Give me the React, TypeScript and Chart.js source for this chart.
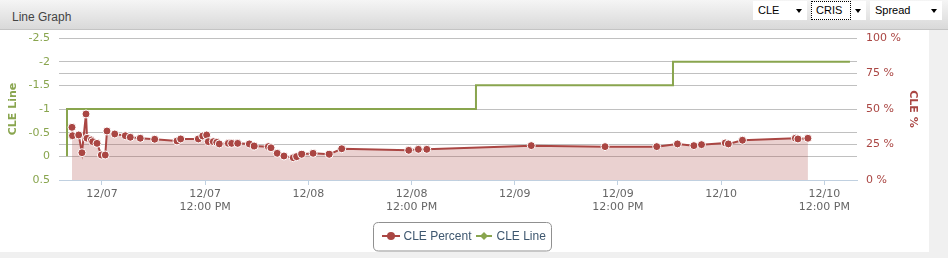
import React, { useEffect, useRef } from "react";
import { Chart, registerables } from "chart.js";

Chart.register(...registerables);

// ---- data ----
const dayLabels = ["12/07", "12/08", "12/09", "12/10"];
const xTickHours = [0, 12, 24, 36, 48, 60, 72, 84];
const leftTickValues = [-2.5, -2, -1.5, -1, -0.5, 0, 0.5];
const rightTickValues = [0, 25, 50, 75, 100];

// CLE Percent: hours since 12/07 00:00 and percent values
const percentHours = [
  -3.49, -3.43, -2.71, -2.33, -1.86, -1.74, -1.24, -1.08, -0.58, -0.08,
  0.38, 0.58, 1.48, 2.71, 3.29, 4.45, 6.13, 8.72, 9.15, 11.2,
  11.71, 12.17, 12.36, 12.94, 13.34, 13.64, 14.69, 15.08, 15.78, 17.13,
  17.71, 19.34, 19.65, 20.38, 21.16, 22.24, 22.64, 23.22, 24.55, 26.42,
  27.88, 35.67, 36.79, 37.77, 49.92, 58.5, 64.51, 66.92, 68.83, 69.72,
  72.48, 72.84, 74.48, 80.63, 80.93, 82.09,
];
const percentValues = [
  37.1, 31.2, 31.7, 19.2, 46.5, 29.4, 28.2, 27.0, 25.8, 17.6,
  17.6, 34.5, 32.4, 31.2, 30.1, 29.4, 28.7, 27.5, 28.9, 28.9,
  31.0, 31.7, 27.0, 27.0, 26.5, 25.4, 25.8, 25.8, 25.8, 25.4,
  23.9, 23.5, 22.7, 18.8, 16.9, 15.7, 16.4, 18.1, 18.8, 18.1,
  22.0, 20.9, 21.6, 21.6, 24.2, 23.5, 23.5, 25.4, 24.2, 24.9,
  26.1, 25.4, 28.0, 29.4, 28.9, 29.4,
];

// CLE Line (stepped)
const lineHours = [-4.07, -4.07, 43.49, 66.4, 86.98];
const lineValues = [0, -1, -1.5, -2, -2];

const xMin = -5.0;
const xMax = 87.8;

const RED = "#AA4643";
const GREEN = "#89A54E";
const FONT = "'DejaVu Sans', Verdana, sans-serif";

const legendPlugin = {
  id: "boxLegend",
  afterDraw(chart: any) {
    const ctx = chart.ctx as CanvasRenderingContext2D;
    ctx.save();
    const bx = 373.5, by = 192.5, bw = 178, bh = 28.5, r = 5;
    ctx.beginPath();
    ctx.moveTo(bx + r, by);
    ctx.lineTo(bx + bw - r, by);
    ctx.quadraticCurveTo(bx + bw, by, bx + bw, by + r);
    ctx.lineTo(bx + bw, by + bh - r);
    ctx.quadraticCurveTo(bx + bw, by + bh, bx + bw - r, by + bh);
    ctx.lineTo(bx + r, by + bh);
    ctx.quadraticCurveTo(bx, by + bh, bx, by + bh - r);
    ctx.lineTo(bx, by + r);
    ctx.quadraticCurveTo(bx, by, bx + r, by);
    ctx.closePath();
    ctx.strokeStyle = "#909090";
    ctx.lineWidth = 1;
    ctx.stroke();

    const cy = 206;
    ctx.strokeStyle = RED;
    ctx.lineWidth = 2;
    ctx.beginPath();
    ctx.moveTo(382, cy);
    ctx.lineTo(400, cy);
    ctx.stroke();
    ctx.fillStyle = RED;
    ctx.beginPath();
    ctx.arc(391, cy, 4, 0, Math.PI * 2);
    ctx.fill();

    ctx.strokeStyle = GREEN;
    ctx.beginPath();
    ctx.moveTo(476, cy);
    ctx.lineTo(492, cy);
    ctx.stroke();
    ctx.fillStyle = GREEN;
    ctx.beginPath();
    ctx.moveTo(484, cy - 4);
    ctx.lineTo(488, cy);
    ctx.lineTo(484, cy + 4);
    ctx.lineTo(480, cy);
    ctx.closePath();
    ctx.fill();

    ctx.fillStyle = "#3E576F";
    ctx.font = "12px 'Liberation Sans', Arial, sans-serif";
    ctx.textBaseline = "middle";
    ctx.textAlign = "left";
    const labels = chart.data.datasets.map((d: any) => d.label);
    ctx.fillText(labels[0], 403.5, cy + 0.5);
    ctx.fillText(labels[1], 496.5, cy + 0.5);
    ctx.restore();
  },
};

function ChartBox() {
  const ref = useRef<HTMLCanvasElement | null>(null);
  useEffect(() => {
    if (!ref.current) return;
    const chart = new Chart(ref.current, {
      type: "line",
      data: {
        datasets: [
          {
            label: "CLE Percent",
            data: percentHours.map((h, i) => ({ x: h, y: percentValues[i] })),
            yAxisID: "yPct",
            borderColor: RED,
            backgroundColor: "rgba(170,70,67,0.25)",
            fill: "start",
            borderWidth: 2,
            pointRadius: 4,
            pointBackgroundColor: RED,
            pointBorderColor: "#ffffff",
            pointBorderWidth: 1,
            tension: 0,
          },
          {
            label: "CLE Line",
            data: lineHours.map((h, i) => ({ x: h, y: lineValues[i] })),
            yAxisID: "yLine",
            borderColor: GREEN,
            backgroundColor: GREEN,
            borderWidth: 2,
            pointRadius: 0,
            stepped: "before",
            fill: false,
          },
        ],
      },
      options: {
        animation: false,
        responsive: false,
        maintainAspectRatio: false,
        layout: { padding: { top: 8, left: 0, right: 0, bottom: 0 } },
        plugins: { legend: { display: false }, tooltip: { enabled: false } },
        scales: {
          x: {
            type: "linear",
            min: xMin,
            max: xMax,
            afterBuildTicks: (s: any) => {
              s.ticks = xTickHours.map((v) => ({ value: v }));
            },
            afterFit: (s: any) => {
              s.height = 72;
              s.paddingLeft = 0;
              s.paddingRight = 0;
              s.paddingTop = 0;
              s.paddingBottom = 0;
            },
            ticks: {
              autoSkip: false,
              maxRotation: 0,
              minRotation: 0,
              padding: 3,
              color: "#666666",
              font: { family: FONT, size: 11, lineHeight: "13px" },
              callback: (v: any) => {
                const n = Number(v);
                const day = dayLabels[Math.floor(n / 24)] ?? "";
                return n % 24 === 0 ? day : [day, "12:00 PM"];
              },
            },
            grid: {
              drawOnChartArea: false,
              drawTicks: true,
              tickLength: 5,
              color: "#C0D0E0",
            },
            border: { display: true, color: "#C0D0E0", width: 1 },
          },
          yLine: {
            type: "linear",
            position: "left",
            reverse: true,
            min: -2.5,
            max: 0.5,
            afterBuildTicks: (s: any) => {
              s.ticks = leftTickValues.map((v) => ({ value: v }));
            },
            afterFit: (s: any) => {
              s.width = 59;
              s.paddingTop = 0;
              s.paddingBottom = 0;
            },
            ticks: {
              color: GREEN,
              padding: 9,
              font: { family: FONT, size: 11 },
              callback: (v: any) => String(v),
            },
            grid: { color: "#C0C0C0", drawTicks: false },
            border: { display: false },
            title: {
              display: true,
              text: "CLE Line",
              color: GREEN,
              font: { family: FONT, size: 11, weight: "bold" },
              padding: { top: 7, bottom: 0 },
            },
          },
          yPct: {
            type: "linear",
            position: "right",
            min: 0,
            max: 100,
            afterBuildTicks: (s: any) => {
              s.ticks = rightTickValues.map((v) => ({ value: v }));
            },
            afterFit: (s: any) => {
              s.width = 72;
              s.paddingTop = 0;
              s.paddingBottom = 0;
            },
            ticks: {
              color: RED,
              padding: 9,
              font: { family: FONT, size: 11 },
              callback: (v: any) => v + " %",
            },
            grid: { color: "#C0C0C0", drawTicks: false },
            border: { display: false },
            title: {
              display: true,
              text: "CLE %",
              color: RED,
              font: { family: FONT, size: 11, weight: "bold" },
              padding: { top: 10, bottom: 0 },
            },
          },
        },
      } as any,
      plugins: [legendPlugin],
    });
    return () => chart.destroy();
  }, []);
  return <canvas ref={ref} width={929} height={222} style={{ display: "block", width: 929, height: 222 }} />;
}

function Select(props: { left: number; width: number; text: string; focus?: boolean; focusWidth?: number }) {
  const { left, width, text, focus, focusWidth } = props;
  return (
    <div
      style={{
        position: "absolute",
        left,
        top: 1,
        width,
        height: 19,
        background: "#ffffff",
        font: "11px 'Liberation Sans', Arial, sans-serif",
        color: "#000",
      }}
    >
      {focus ? (
        <div
          style={{
            position: "absolute",
            left: 0,
            top: 0,
            width: (focusWidth ?? width) - 2,
            height: 17,
            border: "1px dotted #000",
          }}
        />
      ) : null}
      <span style={{ position: "absolute", left: 5, top: 3, lineHeight: "13px" }}>{text}</span>
      <div
        style={{
          position: "absolute",
          left: width - 11,
          top: 8,
          width: 0,
          height: 0,
          borderLeft: "3.5px solid transparent",
          borderRight: "3.5px solid transparent",
          borderTop: "4px solid #000",
        }}
      />
    </div>
  );
}

export default function App() {
  return (
    <div
      style={{
        position: "absolute",
        left: 0,
        top: 0,
        width: 948,
        height: 258,
        background: "#f0f0f0",
        overflow: "hidden",
      }}
    >
      <div
        style={{
          position: "absolute",
          left: 0,
          top: 0,
          width: 948,
          height: 29,
          background: "linear-gradient(#f5f5f5, #d9d9d9)",
          borderBottom: "1px solid #c4c4c4",
        }}
      >
        <span
          style={{
            position: "absolute",
            left: 12,
            top: 10,
            font: "12px 'Liberation Sans', Arial, sans-serif",
            color: "#444444",
            lineHeight: "14px",
          }}
        >
          Line Graph
        </span>
        <Select left={753} width={54} text="CLE" />
        <Select left={811} width={55} text="CRIS" focus focusWidth={40} />
        <Select left={870} width={72} text="Spread" />
      </div>
      <div style={{ position: "absolute", left: 0, top: 30, width: 929, height: 222, background: "#ffffff" }}>
        <ChartBox />
      </div>
    </div>
  );
}
